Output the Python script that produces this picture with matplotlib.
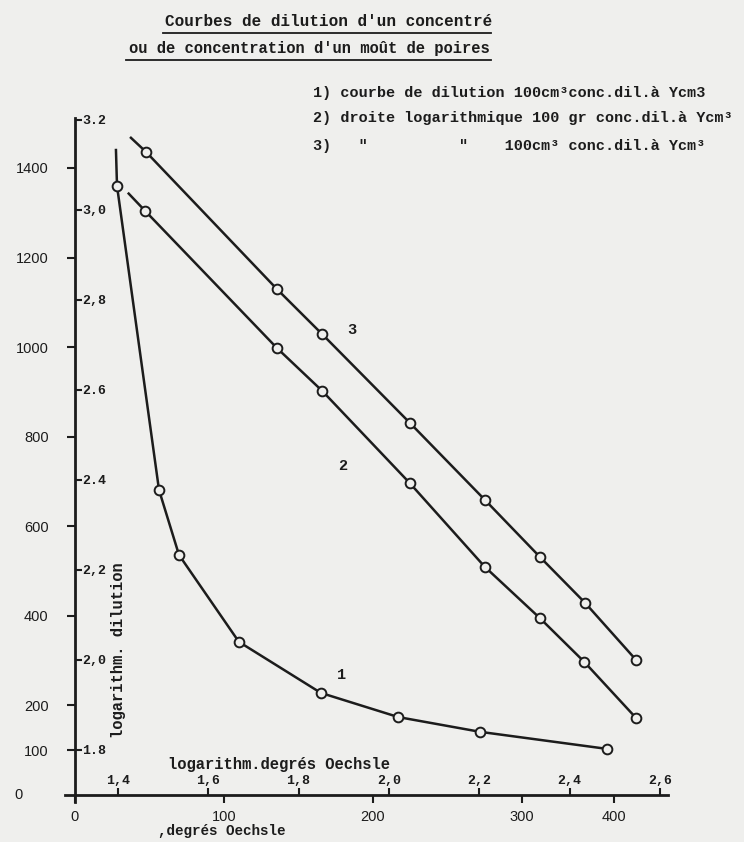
import numpy as np
from matplotlib import pyplot as plt
from matplotlib.lines import Line2D

# curve 1: dilution (cm3) vs degres Oechsle, first point is only the line's start
oechsle = [27.5, 28.2, 56.4, 69.8, 110, 165, 217, 272, 357]
dilution = [1440, 1360, 681, 536, 342, 228, 174, 141, 103]

# line 2: log dilution (100 gr conc.) vs log Oechsle
log_oe_2 = [1.424, 1.460, 1.752, 1.852, 2.046, 2.212, 2.334, 2.432, 2.547]
log_dil_2 = [3.036, 2.998, 2.693, 2.598, 2.393, 2.207, 2.093, 1.996, 1.871]

# line 3: log dilution (100 cm3 conc.) vs log Oechsle
log_oe_3 = [1.429, 1.462, 1.752, 1.852, 2.046, 2.212, 2.334, 2.434, 2.547]
log_dil_3 = [3.160, 3.129, 2.824, 2.724, 2.527, 2.356, 2.229, 2.127, 2.000]

lin_yticks = [100, 200, 400, 600, 800, 1000, 1200, 1400]
lin_xticks = [0, 100, 200, 300, 362]          # the "400" tick sits where the original drew it
lin_xlabels = ['0', '100', '200', '300', '400']
log_xticks = [1.4, 1.6, 1.8, 2.0, 2.2, 2.4, 2.6]
log_xlabels = ['1,4', '1,6', '1,8', '2,0', '2,2', '2,4', '2,6']
log_yticks = [1.8, 2.0, 2.2, 2.4, 2.6, 2.8, 3.0, 3.2]
log_ylabels = ['1.8', '2,0', '2,2', '2.4', '2.6', '2,8', '3,0', '3.2']

paper = '#efefed'
ink = '#1c1c1c'
mono = 'Liberation Mono'
sans = 'Liberation Sans'
W, H = 744, 842


def fx(px):
    return px / W


def fy(py):
    return 1 - py / H


fig = plt.figure(figsize=(7.44, 8.42), dpi=100, facecolor=paper)
box = [fx(65), fy(802), fx(668) - fx(65), fy(118) - fy(802)]
ax = fig.add_axes(box, label='lin')
ax2 = fig.add_axes(box, label='log')
for a in (ax, ax2):
    a.set_facecolor('none')

# linear axes (curve 1)
ax.set_xlim(-6.7, 398)
ax.set_ylim(-15.6, 1511.5)
ax.spines['left'].set_position(('data', 0))
ax.spines['bottom'].set_position(('data', 0))
ax.spines['top'].set_visible(False)
ax.spines['right'].set_visible(False)
for s in ('left', 'bottom'):
    ax.spines[s].set_linewidth(2.0)
    ax.spines[s].set_color(ink)
ax.set_yticks(lin_yticks, labels=[str(v) for v in lin_yticks], fontfamily=sans)
ax.set_xticks(lin_xticks, labels=lin_xlabels, fontfamily=sans)
ax.tick_params(axis='y', direction='out', length=6, width=1.5, pad=13,
               labelsize=10.5, colors=ink)
ax.tick_params(axis='x', direction='out', length=6, width=1.5, pad=5,
               labelsize=10.5, colors=ink)
ax.plot(oechsle, dilution, '-', color=ink, lw=1.8, marker='o', ms=7,
        mfc=paper, mec=ink, mew=1.4, markevery=list(range(1, len(oechsle))))
ax.text(179, 268, '1', family=mono, fontsize=11, fontweight='bold', color=ink,
        ha='center', va='center')

# logarithmic axes (lines 2 and 3)
ax2.set_xlim(1.283, 2.618)
ax2.set_ylim(1.684, 3.204)
for s in ax2.spines.values():
    s.set_visible(False)
ax2.xaxis.tick_top()
ax2.yaxis.tick_right()
ax2.spines['top'].set_position(('data', 1.7))
ax2.spines['right'].set_position(('data', 1.305))
ax2.set_xticks(log_xticks, labels=log_xlabels, fontfamily=mono, fontweight='bold')
ax2.set_yticks(log_yticks, labels=log_ylabels, fontfamily=mono, fontweight='bold')
ax2.tick_params(direction='out', length=5, width=1.5, pad=0.5, labelsize=9.5,
                colors=ink)
ax2.plot(log_oe_2, log_dil_2, '-', color=ink, lw=1.8, marker='o', ms=7,
         mfc=paper, mec=ink, mew=1.4, markevery=list(range(1, len(log_oe_2))))
ax2.plot(log_oe_3, log_dil_3, '-', color=ink, lw=1.8, marker='o', ms=7,
         mfc=paper, mec=ink, mew=1.4, markevery=list(range(1, len(log_oe_3))))
ax2.text(1.898, 2.431, '2', family=mono, fontsize=11, fontweight='bold',
         color=ink, ha='center', va='center')
ax2.text(1.918, 2.733, '3', family=mono, fontsize=11, fontweight='bold',
         color=ink, ha='center', va='center')

# typed texts
kw = dict(family=mono, fontsize=11.2, fontweight='bold', color=ink)
fig.text(fx(165), fy(22), "Courbes de dilution d'un concentré", ha='left', va='center',
         family=mono, fontsize=11.5, fontweight='bold', color=ink)
fig.text(fx(490), fy(48), "ou de concentration d'un moût de poires", ha='right', va='center', **kw)
fig.add_artist(Line2D([fx(163), fx(491)], [fy(33), fy(33)], color=ink, lw=1.3))
fig.add_artist(Line2D([fx(126), fx(491)], [fy(60), fy(60)], color=ink, lw=1.3))

kl = dict(family=mono, fontsize=10.9, fontweight='bold', color=ink)
fig.text(fx(313), fy(93), '1) courbe de dilution 100cm³conc.dil.à Ycm3', va='center', **kl)
fig.text(fx(313), fy(118), '2) droite logarithmique 100 gr conc.dil.à Ycm³', va='center', **kl)
fig.text(fx(313), fy(146), '3)   "          "    100cm³ conc.dil.à Ycm³', va='center', **kl)

fig.text(fx(168), fy(764), 'logarithm.degrés Oechsle', ha='left', va='center', **kw)
fig.text(fx(158), fy(831), ',degrés Oechsle', ha='left', va='center',
         family=mono, fontsize=10.3, fontweight='bold', color=ink)
fig.text(fx(119), fy(650), 'logarithm. dilution', rotation=90, ha='center',
         va='center', **kw)
fig.text(fx(14), fy(795), '0', ha='left', va='center', family=sans,
         fontsize=10.5, color=ink)

fig.savefig('out.png', dpi=100, facecolor=paper)
